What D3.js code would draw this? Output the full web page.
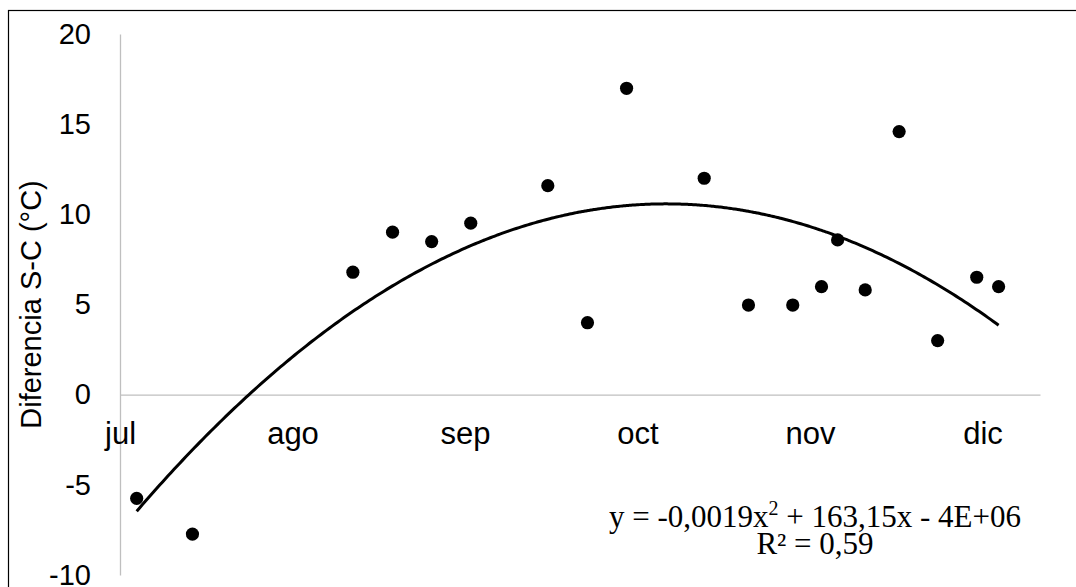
<!DOCTYPE html>
<html>
<head>
<meta charset="utf-8">
<script src="https://cdn.jsdelivr.net/npm/d3@7"></script>
<style>
  body { margin: 0; background: #fff; }
  svg { display: block; }
</style>
</head>
<body>
<svg id="chart"></svg>
<script>
// days counted from the "jul" tick
const days = [2.9, 12.6, 40.5, 47.4, 54.2, 61.0, 74.4, 81.3, 88.1, 101.6,
              109.3, 117.0, 122.0, 124.8, 129.6, 135.5, 142.2, 149.0, 152.8];
const diffs = [-5.75, -7.73, 6.79, 9.01, 8.49, 9.51, 11.59, 3.99, 16.99, 12.0,
               4.97, 4.97, 5.99, 8.58, 5.81, 14.59, 3.0, 6.51, 5.99];
const monthTicks = [0, 30, 60, 90, 120, 150];
const monthLabels = ['jul', 'ago', 'sep', 'oct', 'nov', 'dic'];
const yTicks = [-10, -5, 0, 5, 10, 15, 20];
const equationText = ['y = -0,0019x', '2', ' + 163,15x - 4E+06'];
const r2Text = 'R² = 0,59';

const width = 1076;
const height = 587;

const svg = d3.select('#chart')
  .attr('width', width)
  .attr('height', height)
  .style('font-family', '"Liberation Sans", Arial, sans-serif');

// outer chart border (cropped at right and bottom)
svg.append('rect')
  .attr('x', 8.5)
  .attr('y', 10.5)
  .attr('width', width + 20)
  .attr('height', height + 20)
  .attr('fill', 'none')
  .attr('stroke', '#000')
  .attr('stroke-width', 1.2);

const xScale = d3.scaleLinear().domain([0, 160]).range([120, 1040]);
const yScale = d3.scaleLinear().domain([-10, 20]).range([575, 34]);

// y axis (plain hyphen for negatives, like the original)
const yAxis = svg.append('g')
  .attr('transform', `translate(${xScale(0)},0)`)
  .call(d3.axisLeft(yScale)
    .tickValues(yTicks)
    .tickFormat(d => String(d))
    .tickSize(0)
    .tickPadding(29));
yAxis.select('.domain').attr('stroke', '#bfbfbf').attr('stroke-width', 1.3);
yAxis.selectAll('text')
  .style('font-size', '29px')
  .style('font-family', '"Liberation Sans", Arial, sans-serif')
  .attr('fill', '#000');

// x axis sits on y = 0
const xAxis = svg.append('g')
  .attr('transform', `translate(0,${yScale(0)})`)
  .call(d3.axisBottom(xScale)
    .tickValues(monthTicks)
    .tickFormat((d, i) => monthLabels[i])
    .tickSize(0)
    .tickPadding(27));
xAxis.select('.domain').attr('stroke', '#bfbfbf').attr('stroke-width', 1.3);
xAxis.selectAll('text')
  .style('font-size', '31px')
  .style('font-family', '"Liberation Sans", Arial, sans-serif')
  .attr('fill', '#000');

// axis title
svg.append('text')
  .attr('transform', `translate(41,${(yScale(20) + yScale(-10)) / 2}) rotate(-90)`)
  .attr('text-anchor', 'middle')
  .style('font-size', '29px')
  .text('Diferencia S-C (°C)');

// polynomial (order 2) trendline, least squares on the points
const points = days.map((d, i) => ({ d, v: diffs[i] }));
const mean = d3.mean(days);
const sums = new Array(5).fill(0);
const rhs = [0, 0, 0];
points.forEach(p => {
  const t = p.d - mean;
  for (let k = 0; k < 5; k++) sums[k] += Math.pow(t, k);
  for (let k = 0; k < 3; k++) rhs[k] += p.v * Math.pow(t, k);
});
const A = [
  [sums[0], sums[1], sums[2], rhs[0]],
  [sums[1], sums[2], sums[3], rhs[1]],
  [sums[2], sums[3], sums[4], rhs[2]]
];
for (let i = 0; i < 3; i++) {
  for (let j = i + 1; j < 3; j++) {
    const f = A[j][i] / A[i][i];
    for (let k = i; k < 4; k++) A[j][k] -= f * A[i][k];
  }
}
const coef = [0, 0, 0];
for (let i = 2; i >= 0; i--) {
  let s = A[i][3];
  for (let k = i + 1; k < 3; k++) s -= A[i][k] * coef[k];
  coef[i] = s / A[i][i];
}
const fit = d => {
  const t = d - mean;
  return coef[0] + coef[1] * t + coef[2] * t * t;
};

const [dMin, dMax] = d3.extent(days);
const curve = d3.range(dMin, dMax, 0.5).concat([dMax]).map(d => ({ d, v: fit(d) }));

svg.append('path')
  .datum(curve)
  .attr('fill', 'none')
  .attr('stroke', '#000')
  .attr('stroke-width', 3)
  .attr('d', d3.line()
    .x(p => xScale(p.d))
    .y(p => yScale(p.v))
    .curve(d3.curveMonotoneX));

// markers
svg.selectAll('.point')
  .data(points)
  .enter()
  .append('circle')
  .attr('class', 'point')
  .attr('cx', p => xScale(p.d))
  .attr('cy', p => yScale(p.v))
  .attr('r', 6.6)
  .attr('fill', '#000');

// trendline label
const eq = svg.append('text')
  .attr('x', 815)
  .attr('y', 527)
  .attr('text-anchor', 'middle')
  .style('font-family', '"Liberation Serif", "Times New Roman", serif')
  .style('font-size', '31px');
eq.append('tspan').text(equationText[0]);
eq.append('tspan').attr('dy', -12).style('font-size', '20px').text(equationText[1]);
eq.append('tspan').attr('dy', 12).text(equationText[2]);

svg.append('text')
  .attr('x', 815)
  .attr('y', 554)
  .attr('text-anchor', 'middle')
  .style('font-family', '"Liberation Serif", "Times New Roman", serif')
  .style('font-size', '31px')
  .text(r2Text);
</script>
</body>
</html>
